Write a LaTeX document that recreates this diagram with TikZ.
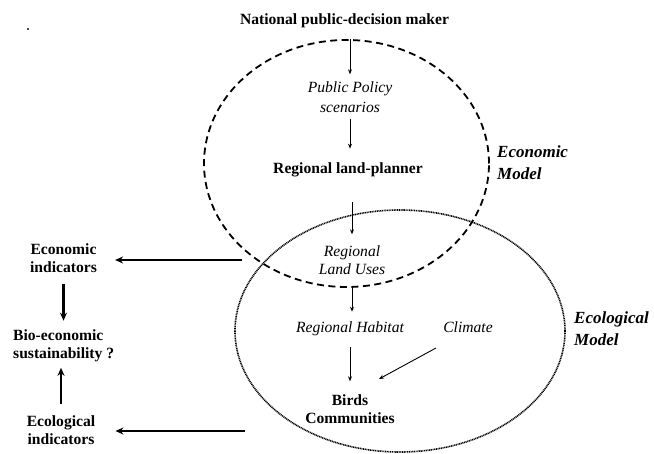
\documentclass[tikz,border=0pt]{standalone}
\usepackage{fontspec}
\setmainfont{Liberation Serif}
\usetikzlibrary{shapes.geometric,arrows.meta}
\begin{document}
\begin{tikzpicture}[x=1pt,y=-1pt,
  bl/.style={font=\bfseries\fontsize{15.6}{18}\selectfont, inner sep=0pt, align=center},
  itl/.style={font=\itshape\fontsize{15.6}{18}\selectfont, inner sep=0pt, align=center},
  mlab/.style={font=\bfseries\itshape\fontsize{17}{22}\selectfont, inner sep=0pt, align=left, anchor=west},
  thinarr/.style={-{Stealth[length=5pt,width=4pt]}, line width=0.9pt},
  thickarr/.style={-{Stealth[length=8pt,width=7pt]}, line width=2.6pt},
  ecobound/.style={draw, ellipse, inner sep=0pt, line width=1.8pt, dash pattern=on 7pt off 4.5pt},
  ecolbound/.style={draw, ellipse, inner sep=0pt, line width=1.6pt, dash pattern=on 1pt off 0.7pt}
]
\useasboundingbox (0,0) rectangle (654,454);
% boundaries
\node[ecobound, minimum width=285pt, minimum height=247pt] (econ) at (346.5,163.5) {};
\node[ecolbound, minimum width=330pt, minimum height=242pt] (ecol) at (400,331) {};
% small dot
\node[fill=black!70, inner sep=0pt, minimum size=2pt] (dot) at (28,29) {};
% texts
\node[bl] (title) at (344.5,21) {National public-decision maker};
\node[itl, font=\itshape\fontsize{15.6}{20}\selectfont] (pp) at (350,97) {Public Policy\\scenarios};
\node[bl] (planner) at (348,170) {Regional land-planner};
\node[itl] (lu) at (352,260) {Regional\\Land Uses};
\node[itl] (hab) at (350,329) {Regional Habitat};
\node[itl] (clim) at (468,327) {Climate};
\node[bl] (birds) at (350,409) {Birds\\Communities};
\node[bl] (econind) at (63.5,258) {Economic\\indicators};
\node[bl, align=left, anchor=west] (bio) at (13,346) {Bio-economic\\sustainability ?};
\node[bl] (ecolind) at (61,430) {Ecological\\indicators};
\node[mlab] (ecoM) at (497,163) {Economic\\Model};
\node[mlab] (ecolM) at (574,329) {Ecological\\Model};
% free ends
\coordinate (e1) at (242,260);
\coordinate (e2) at (245,431);
% thin arrows
\draw[thinarr, shorten >=7pt] (pp.north |- econ.north) -- (pp.north);
\draw[thinarr, shorten <=6pt, shorten >=14pt] (pp.south) -- (pp.south |- planner.north);
\draw[thinarr, shorten <=25pt, shorten >=11pt] (lu.north |- planner.south) -- (lu.north);
\draw[thinarr, shorten <=13pt, shorten >=10pt] (lu.south) -- (lu.south |- hab.north);
\draw[thinarr, shorten <=10.5pt, shorten >=13pt] (hab.south) -- (hab.south |- birds.north);
\draw[thinarr] ([shift={(-32,21)}]clim.center) -- ([shift={(29,-30)}]birds.center);
% thick arrows
\draw[thickarr, shorten >=18pt] (e1) -- (econind.east |- e1);
\draw[thickarr, shorten >=20pt] (e2) -- (ecolind.east |- e2);
\draw[thickarr, shorten <=11pt, shorten >=9pt] (econind.south) -- (econind.south |- bio.north);
\draw[thickarr, shorten <=11pt, shorten >=5.5pt] (ecolind.north) -- (ecolind.north |- bio.south);
\end{tikzpicture}
\end{document}
